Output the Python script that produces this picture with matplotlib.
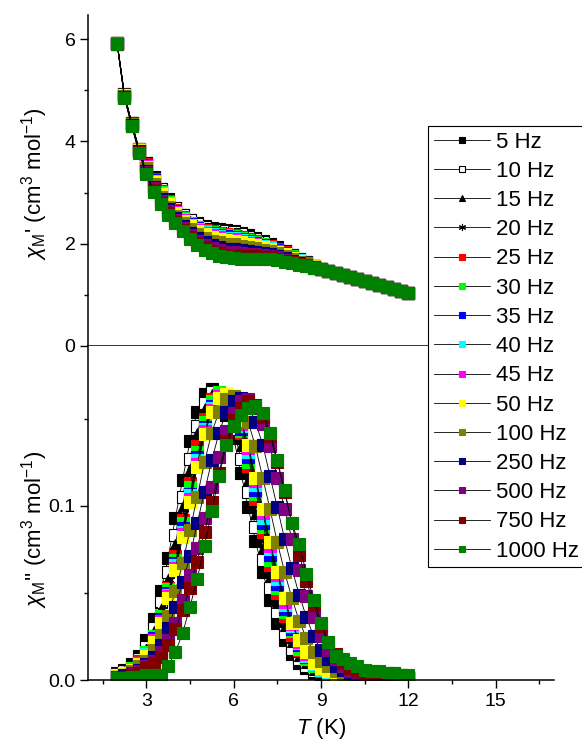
import matplotlib
matplotlib.use('Agg')
import matplotlib.pyplot as plt
from matplotlib.ticker import MultipleLocator, FormatStrFormatter

plt.rcParams['font.family'] = ['Liberation Sans', 'DejaVu Sans']
plt.rcParams['mathtext.fontset'] = 'custom'
plt.rcParams['mathtext.rm'] = 'Liberation Sans'
plt.rcParams['mathtext.it'] = 'Liberation Sans:italic'

# Temperatures (K)
temps = [2.00, 2.25, 2.50, 2.75, 3.00, 3.25, 3.50, 3.75, 4.00, 4.25,
         4.50, 4.75, 5.00, 5.25, 5.50, 5.75, 6.00, 6.25, 6.50, 6.75,
         7.00, 7.25, 7.50, 7.75, 8.00, 8.25, 8.50, 8.75, 9.00, 9.25,
         9.50, 9.75, 10.00, 10.25, 10.50, 10.75, 11.00, 11.25, 11.50, 11.75, 12.00]

freqs = ['5 Hz', '10 Hz', '15 Hz', '20 Hz', '25 Hz', '30 Hz', '35 Hz', '40 Hz',
         '45 Hz', '50 Hz', '100 Hz', '250 Hz', '500 Hz', '750 Hz', '1000 Hz']

# in-phase chi' (cm3 mol-1)
chi1_5 = [5.93, 4.92, 4.36, 3.86, 3.58, 3.30, 3.07, 2.87, 2.70, 2.57,
          2.47, 2.40, 2.34, 2.31, 2.29, 2.27, 2.25, 2.21, 2.16, 2.11,
          2.05, 1.99, 1.93, 1.86, 1.78, 1.71, 1.64, 1.57, 1.51, 1.46,
          1.42, 1.38, 1.35, 1.31, 1.27, 1.23, 1.19, 1.15, 1.11, 1.07, 1.03]
chi1_10 = [5.93, 4.92, 4.36, 3.86, 3.57, 3.29, 3.06, 2.86, 2.69, 2.56,
           2.46, 2.38, 2.32, 2.29, 2.27, 2.25, 2.23, 2.19, 2.14, 2.09,
           2.04, 1.98, 1.92, 1.85, 1.77, 1.70, 1.64, 1.57, 1.51, 1.46,
           1.42, 1.38, 1.35, 1.31, 1.27, 1.23, 1.19, 1.15, 1.11, 1.07, 1.03]
chi1_15 = [5.93, 4.91, 4.36, 3.85, 3.56, 3.28, 3.05, 2.85, 2.68, 2.54,
           2.44, 2.37, 2.30, 2.27, 2.25, 2.23, 2.21, 2.17, 2.12, 2.08,
           2.02, 1.97, 1.91, 1.84, 1.77, 1.70, 1.63, 1.57, 1.51, 1.46,
           1.42, 1.38, 1.35, 1.31, 1.27, 1.23, 1.19, 1.15, 1.11, 1.07, 1.03]
chi1_20 = [5.93, 4.91, 4.35, 3.85, 3.56, 3.27, 3.04, 2.84, 2.67, 2.53,
           2.43, 2.35, 2.29, 2.26, 2.23, 2.21, 2.19, 2.15, 2.11, 2.07,
           2.01, 1.96, 1.90, 1.84, 1.76, 1.70, 1.63, 1.57, 1.51, 1.46,
           1.42, 1.38, 1.35, 1.31, 1.27, 1.23, 1.19, 1.15, 1.11, 1.07, 1.03]
chi1_25 = [5.93, 4.91, 4.35, 3.85, 3.55, 3.26, 3.03, 2.83, 2.66, 2.52,
           2.41, 2.33, 2.27, 2.24, 2.21, 2.19, 2.17, 2.14, 2.09, 2.05,
           2.00, 1.95, 1.89, 1.83, 1.76, 1.69, 1.63, 1.56, 1.51, 1.46,
           1.42, 1.38, 1.35, 1.31, 1.27, 1.23, 1.19, 1.15, 1.11, 1.07, 1.03]
chi1_30 = [5.92, 4.91, 4.35, 3.85, 3.54, 3.25, 3.01, 2.81, 2.64, 2.51,
           2.40, 2.32, 2.25, 2.22, 2.19, 2.17, 2.15, 2.12, 2.07, 2.03,
           1.99, 1.94, 1.88, 1.82, 1.75, 1.69, 1.63, 1.56, 1.51, 1.46,
           1.42, 1.38, 1.35, 1.31, 1.27, 1.23, 1.19, 1.15, 1.11, 1.07, 1.03]
chi1_35 = [5.92, 4.90, 4.35, 3.84, 3.53, 3.24, 3.00, 2.80, 2.63, 2.49,
           2.38, 2.30, 2.23, 2.20, 2.17, 2.15, 2.13, 2.10, 2.06, 2.02,
           1.97, 1.92, 1.87, 1.81, 1.74, 1.68, 1.62, 1.56, 1.51, 1.46,
           1.42, 1.38, 1.35, 1.31, 1.27, 1.23, 1.19, 1.15, 1.11, 1.07, 1.03]
chi1_40 = [5.92, 4.90, 4.34, 3.84, 3.52, 3.22, 2.99, 2.79, 2.62, 2.48,
           2.37, 2.28, 2.22, 2.18, 2.15, 2.12, 2.11, 2.08, 2.04, 2.00,
           1.96, 1.91, 1.86, 1.80, 1.74, 1.68, 1.62, 1.56, 1.51, 1.46,
           1.42, 1.38, 1.35, 1.31, 1.27, 1.23, 1.19, 1.15, 1.11, 1.07, 1.03]
chi1_45 = [5.92, 4.90, 4.34, 3.84, 3.51, 3.21, 2.98, 2.78, 2.61, 2.47,
           2.35, 2.27, 2.20, 2.16, 2.13, 2.10, 2.09, 2.06, 2.02, 1.99,
           1.94, 1.90, 1.85, 1.80, 1.73, 1.67, 1.62, 1.56, 1.51, 1.46,
           1.42, 1.38, 1.35, 1.31, 1.27, 1.23, 1.19, 1.15, 1.11, 1.07, 1.03]
chi1_50 = [5.92, 4.90, 4.34, 3.83, 3.50, 3.20, 2.97, 2.77, 2.60, 2.45,
           2.34, 2.25, 2.18, 2.14, 2.10, 2.08, 2.06, 2.04, 2.00, 1.97,
           1.93, 1.89, 1.84, 1.79, 1.72, 1.67, 1.61, 1.56, 1.51, 1.46,
           1.42, 1.38, 1.35, 1.31, 1.27, 1.23, 1.19, 1.15, 1.11, 1.07, 1.03]
chi1_100 = [5.92, 4.89, 4.33, 3.82, 3.47, 3.16, 2.92, 2.72, 2.55, 2.41,
            2.28, 2.19, 2.11, 2.06, 2.03, 2.00, 1.99, 1.96, 1.94, 1.91,
            1.88, 1.85, 1.81, 1.76, 1.70, 1.65, 1.60, 1.55, 1.51, 1.46,
            1.42, 1.38, 1.35, 1.31, 1.27, 1.23, 1.19, 1.15, 1.11, 1.07, 1.03]
chi1_250 = [5.91, 4.87, 4.32, 3.81, 3.43, 3.11, 2.87, 2.67, 2.50, 2.35,
            2.21, 2.11, 2.03, 1.97, 1.93, 1.90, 1.89, 1.87, 1.85, 1.84,
            1.82, 1.79, 1.76, 1.72, 1.67, 1.63, 1.59, 1.54, 1.50, 1.46,
            1.42, 1.38, 1.35, 1.31, 1.27, 1.23, 1.19, 1.15, 1.11, 1.07, 1.03]
chi1_500 = [5.91, 4.86, 4.31, 3.80, 3.40, 3.08, 2.83, 2.63, 2.46, 2.31,
            2.17, 2.06, 1.97, 1.91, 1.87, 1.84, 1.83, 1.81, 1.80, 1.79,
            1.78, 1.76, 1.73, 1.69, 1.65, 1.61, 1.58, 1.54, 1.50, 1.46,
            1.42, 1.38, 1.35, 1.31, 1.27, 1.23, 1.19, 1.15, 1.11, 1.07, 1.03]
chi1_750 = [5.90, 4.86, 4.31, 3.79, 3.38, 3.05, 2.80, 2.60, 2.43, 2.27,
            2.13, 2.01, 1.93, 1.86, 1.81, 1.78, 1.77, 1.76, 1.76, 1.75,
            1.74, 1.73, 1.71, 1.67, 1.64, 1.60, 1.57, 1.53, 1.50, 1.46,
            1.42, 1.38, 1.35, 1.31, 1.27, 1.23, 1.19, 1.15, 1.11, 1.07, 1.03]
chi1_1000 = [5.90, 4.85, 4.30, 3.78, 3.36, 3.02, 2.77, 2.57, 2.40, 2.24,
             2.09, 1.97, 1.88, 1.81, 1.76, 1.73, 1.72, 1.71, 1.71, 1.71,
             1.71, 1.70, 1.68, 1.65, 1.62, 1.59, 1.56, 1.53, 1.50, 1.46,
             1.42, 1.39, 1.35, 1.31, 1.27, 1.23, 1.19, 1.15, 1.11, 1.07, 1.03]

# out-of-phase chi'' (cm3 mol-1)
chi2_5 = [0.004, 0.006, 0.009, 0.014, 0.023, 0.035, 0.051, 0.070, 0.093, 0.115,
          0.137, 0.154, 0.164, 0.167, 0.162, 0.152, 0.139, 0.119, 0.099, 0.080,
          0.062, 0.046, 0.033, 0.023, 0.015, 0.010, 0.007, 0.004, 0.003, 0.002,
          0.002, 0.002, 0.001, 0.001, 0.001, 0.001, 0.001, 0.001, 0.001, 0.001, 0.001]
chi2_10 = [0.003, 0.005, 0.007, 0.012, 0.019, 0.030, 0.045, 0.062, 0.083, 0.105,
           0.127, 0.146, 0.159, 0.165, 0.164, 0.157, 0.144, 0.127, 0.108, 0.088,
           0.069, 0.053, 0.039, 0.027, 0.018, 0.012, 0.008, 0.005, 0.004, 0.002,
           0.002, 0.001, 0.001, 0.001, 0.001, 0.001, 0.001, 0.001, 0.001, 0.001, 0.001]
chi2_15 = [0.003, 0.005, 0.007, 0.011, 0.018, 0.028, 0.041, 0.058, 0.078, 0.100,
           0.121, 0.142, 0.156, 0.164, 0.165, 0.160, 0.149, 0.134, 0.115, 0.095,
           0.076, 0.059, 0.044, 0.031, 0.022, 0.014, 0.010, 0.006, 0.004, 0.003,
           0.002, 0.002, 0.001, 0.001, 0.001, 0.001, 0.001, 0.001, 0.001, 0.001, 0.001]
chi2_20 = [0.003, 0.004, 0.007, 0.011, 0.017, 0.027, 0.040, 0.055, 0.074, 0.095,
           0.116, 0.138, 0.153, 0.163, 0.165, 0.161, 0.151, 0.137, 0.118, 0.100,
           0.080, 0.063, 0.047, 0.034, 0.023, 0.015, 0.011, 0.007, 0.005, 0.003,
           0.002, 0.002, 0.001, 0.001, 0.001, 0.001, 0.001, 0.001, 0.001, 0.001, 0.001]
chi2_25 = [0.003, 0.004, 0.007, 0.011, 0.016, 0.025, 0.037, 0.053, 0.071, 0.092,
           0.113, 0.134, 0.150, 0.161, 0.165, 0.162, 0.153, 0.142, 0.123, 0.104,
           0.085, 0.066, 0.050, 0.037, 0.026, 0.017, 0.012, 0.008, 0.005, 0.003,
           0.002, 0.002, 0.001, 0.001, 0.001, 0.001, 0.001, 0.001, 0.001, 0.001, 0.001]
chi2_30 = [0.003, 0.004, 0.007, 0.010, 0.016, 0.025, 0.037, 0.052, 0.069, 0.090,
           0.111, 0.131, 0.148, 0.160, 0.165, 0.163, 0.155, 0.143, 0.125, 0.107,
           0.088, 0.069, 0.053, 0.039, 0.028, 0.018, 0.012, 0.008, 0.006, 0.004,
           0.003, 0.002, 0.001, 0.001, 0.001, 0.001, 0.001, 0.001, 0.001, 0.001, 0.001]
chi2_35 = [0.003, 0.004, 0.006, 0.010, 0.015, 0.024, 0.035, 0.050, 0.067, 0.087,
           0.107, 0.128, 0.145, 0.157, 0.163, 0.163, 0.156, 0.144, 0.128, 0.109,
           0.090, 0.072, 0.055, 0.041, 0.029, 0.020, 0.013, 0.009, 0.006, 0.004,
           0.003, 0.002, 0.002, 0.001, 0.001, 0.001, 0.001, 0.001, 0.001, 0.001, 0.001]
chi2_40 = [0.003, 0.004, 0.006, 0.010, 0.015, 0.023, 0.034, 0.049, 0.066, 0.085,
           0.106, 0.126, 0.144, 0.156, 0.163, 0.163, 0.157, 0.146, 0.131, 0.112,
           0.093, 0.075, 0.058, 0.043, 0.031, 0.021, 0.014, 0.009, 0.006, 0.004,
           0.003, 0.002, 0.002, 0.001, 0.001, 0.001, 0.001, 0.001, 0.001, 0.001, 0.001]
chi2_45 = [0.003, 0.004, 0.006, 0.010, 0.014, 0.023, 0.034, 0.048, 0.064, 0.084,
           0.104, 0.124, 0.143, 0.155, 0.163, 0.164, 0.158, 0.147, 0.133, 0.114,
           0.096, 0.077, 0.060, 0.045, 0.032, 0.022, 0.015, 0.010, 0.007, 0.005,
           0.003, 0.002, 0.002, 0.001, 0.001, 0.001, 0.001, 0.001, 0.001, 0.001, 0.001]
chi2_50 = [0.003, 0.004, 0.006, 0.009, 0.014, 0.022, 0.033, 0.047, 0.063, 0.082,
           0.102, 0.122, 0.141, 0.154, 0.162, 0.164, 0.159, 0.149, 0.135, 0.116,
           0.098, 0.079, 0.062, 0.047, 0.033, 0.023, 0.016, 0.010, 0.007, 0.005,
           0.003, 0.002, 0.002, 0.002, 0.001, 0.002, 0.003, 0.002, 0.001, 0.001, 0.001]
chi2_100 = [0.002, 0.003, 0.005, 0.008, 0.011, 0.017, 0.026, 0.037, 0.051, 0.067,
            0.086, 0.105, 0.125, 0.142, 0.154, 0.161, 0.163, 0.158, 0.148, 0.134,
            0.116, 0.098, 0.079, 0.062, 0.047, 0.034, 0.024, 0.016, 0.011, 0.008,
            0.005, 0.003, 0.002, 0.002, 0.002, 0.002, 0.001, 0.001, 0.001, 0.001, 0.001]
chi2_250 = [0.002, 0.003, 0.004, 0.006, 0.009, 0.013, 0.020, 0.030, 0.042, 0.056,
            0.071, 0.090, 0.108, 0.126, 0.142, 0.154, 0.160, 0.162, 0.157, 0.148,
            0.135, 0.117, 0.099, 0.081, 0.064, 0.049, 0.036, 0.025, 0.017, 0.012,
            0.008, 0.006, 0.004, 0.003, 0.002, 0.002, 0.002, 0.002, 0.001, 0.001, 0.001]
chi2_500 = [0.002, 0.002, 0.004, 0.005, 0.008, 0.011, 0.016, 0.023, 0.033, 0.046,
            0.060, 0.076, 0.093, 0.111, 0.128, 0.143, 0.153, 0.160, 0.161, 0.156,
            0.147, 0.134, 0.116, 0.098, 0.081, 0.063, 0.048, 0.036, 0.025, 0.017,
            0.012, 0.008, 0.005, 0.004, 0.003, 0.003, 0.003, 0.003, 0.004, 0.003, 0.002]
chi2_750 = [0.001, 0.002, 0.003, 0.004, 0.007, 0.010, 0.013, 0.020, 0.029, 0.040,
            0.053, 0.068, 0.085, 0.102, 0.119, 0.137, 0.149, 0.156, 0.160, 0.158,
            0.151, 0.140, 0.125, 0.108, 0.090, 0.072, 0.057, 0.043, 0.031, 0.022,
            0.015, 0.010, 0.007, 0.005, 0.004, 0.003, 0.003, 0.004, 0.003, 0.003, 0.002]
chi2_1000 = [0.001, 0.001, 0.002, 0.002, 0.003, 0.003, 0.003, 0.008, 0.016, 0.027,
             0.042, 0.058, 0.077, 0.097, 0.117, 0.135, 0.146, 0.152, 0.156, 0.157,
             0.153, 0.142, 0.126, 0.109, 0.090, 0.078, 0.061, 0.046, 0.033, 0.022,
             0.014, 0.012, 0.010, 0.008, 0.006, 0.005, 0.005, 0.004, 0.004, 0.003, 0.003]

chi1_all = [chi1_5, chi1_10, chi1_15, chi1_20, chi1_25, chi1_30, chi1_35, chi1_40,
            chi1_45, chi1_50, chi1_100, chi1_250, chi1_500, chi1_750, chi1_1000]
chi2_all = [chi2_5, chi2_10, chi2_15, chi2_20, chi2_25, chi2_30, chi2_35, chi2_40,
            chi2_45, chi2_50, chi2_100, chi2_250, chi2_500, chi2_750, chi2_1000]

# marker styles per frequency
markers = ['s', 's', '^', (6, 2, 0), 's', 's', 's', 's', 's', 's', 's', 's', 's', 's', 's']
face_cols = ['black', 'white', 'black', 'black', '#FF0000', '#00FF00', '#0000FF', '#00FFFF',
             '#FF00FF', '#FFFF00', '#808000', '#000080', '#800080', '#800000', '#008000']
edge_cols = ['black', 'black', 'black', 'black', '#FF0000', '#00FF00', '#0000FF', '#00FFFF',
             '#FF00FF', '#FFFF00', '#808000', '#000080', '#800080', '#800000', '#008000']
sizes = [8.2, 8.2, 7.5, 8.5, 8.2, 8.2, 8.2, 8.2, 8.2, 8.2, 8.2, 8.2, 8.2, 8.2, 8.2]

fig = plt.figure(figsize=(5.82, 7.51), dpi=100)
ax1 = fig.add_axes([0.1512, 0.5393, 0.8007, 0.4407])
ax2 = fig.add_axes([0.1512, 0.0945, 0.8007, 0.4447])

for i, lab in enumerate(freqs):
    for ax, ys in ((ax1, chi1_all[i]), (ax2, chi2_all[i])):
        ax.plot(temps, ys, color='black', lw=0.6, marker=markers[i], ms=sizes[i],
                mfc=face_cols[i], mec=edge_cols[i], mew=0.8, label=lab)

for ax in (ax1, ax2):
    ax.set_xlim(1, 17)
    ax.xaxis.set_major_locator(MultipleLocator(3))
    ax.xaxis.set_minor_locator(MultipleLocator(1.5))
    ax.spines['top'].set_visible(False)
    ax.spines['right'].set_visible(False)
    for s in ('left', 'bottom'):
        ax.spines[s].set_linewidth(1.1)
    ax.tick_params(which='major', direction='out', length=5.5, width=1, labelsize=14)
    ax.tick_params(which='minor', direction='out', length=3, width=1)

ax1.set_ylim(0, 6.47)
ax1.yaxis.set_major_locator(MultipleLocator(2))
ax1.yaxis.set_minor_locator(MultipleLocator(1))
ax1.tick_params(labelbottom=False)
ax1.set_ylabel(r"$\chi_{\rm M}$' (cm$^3$ mol$^{-1}$)", fontsize=16)
ax1.yaxis.set_label_coords(-0.082, 0.49)

ax2.set_ylim(0, 0.1916)
ax2.yaxis.set_major_locator(MultipleLocator(0.1))
ax2.yaxis.set_minor_locator(MultipleLocator(0.05))
ax2.yaxis.set_major_formatter(FormatStrFormatter('%.1f'))
ax2.set_ylabel(r"$\chi_{\rm M}$'' (cm$^3$ mol$^{-1}$)", fontsize=16)
ax2.yaxis.set_label_coords(-0.082, 0.45)
ax2.set_xlabel(r"$T$ (K)", fontsize=16, labelpad=5)

handles, labels = ax1.get_legend_handles_labels()
leg = fig.legend(handles, labels, loc='upper left', bbox_to_anchor=(0.7354, 0.8322),
                 frameon=True, fancybox=False, edgecolor='black', framealpha=1,
                 fontsize=16, markerscale=0.6, handlelength=2.55, handletextpad=0.25,
                 labelspacing=0.37, borderpad=0.25, borderaxespad=0)
leg.get_frame().set_linewidth(0.8)

fig.savefig('out.png', dpi=100)
